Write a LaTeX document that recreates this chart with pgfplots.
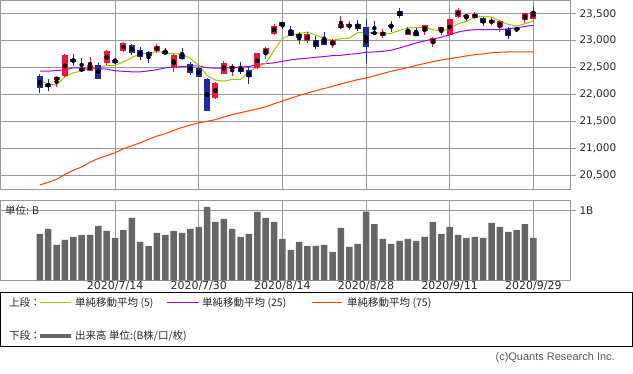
\documentclass[border=0pt]{standalone}
\usepackage{pgfplots}
\pgfplotsset{compat=1.18}
\usepackage{pgfplotstable}
\usepackage{fontspec}
\setmainfont{DejaVu Sans}
\newfontfamily\jp{Noto Sans CJK JP}
\newfontfamily\lib{Liberation Sans}
\definecolor{cup}{RGB}{240,20,60}
\definecolor{cdn}{RGB}{32,40,160}
\definecolor{gridc}{RGB}{153,153,153}
\definecolor{ma5c}{RGB}{153,204,0}
\definecolor{ma25c}{RGB}{160,0,255}
\definecolor{ma75c}{RGB}{255,64,0}
\definecolor{volc}{RGB}{102,102,102}
\definecolor{txt}{RGB}{40,40,40}

% up candles (close >= open)
\pgfplotstableread{
i o h l c
2 22265 22330 22142 22321
3 22339 22747 22315 22728
6 22438 22691 22438 22543
8 22586 22821 22556 22802
10 22809 22969 22790 22951
14 22802 22932 22772 22895
16 22500 22747 22420 22728
21 21938 22222 21920 22210
22 22383 22617 22383 22580
23 22475 22562 22339 22518
26 22494 22765 22475 22765
27 22753 22877 22654 22858
28 23123 23315 23105 23265
32 22994 23160 22957 23123
35 22920 23025 22864 23006
36 23235 23451 23210 23302
37 23253 23358 23197 23302
41 23093 23210 23049 23154
44 23111 23259 23111 23204
46 23179 23296 23105 23284
47 22957 23062 22883 23037
48 23179 23259 23105 23247
49 23105 23426 23086 23407
50 23438 23599 23426 23574
51 23438 23500 23364 23475
52 23426 23525 23401 23488
54 23327 23414 23296 23377
55 23253 23383 23167 23358
58 23389 23519 23327 23519
59 23407 23636 23407 23537
}\up

% down candles (close < open)
\pgfplotstableread{
i o h l c
0 22339 22376 22031 22123
1 22197 22284 22068 22142
4 22654 22747 22525 22599
5 22481 22673 22426 22438
7 22543 22580 22290 22290
9 22636 22685 22574 22586
11 22914 22938 22741 22772
12 22821 22877 22636 22698
13 22778 22802 22586 22716
15 22802 22858 22735 22753
17 22741 22864 22636 22654
18 22556 22599 22364 22401
19 22494 22512 22327 22327
20 22284 22296 21697 21697
24 22488 22599 22377 22420
25 22444 22512 22198 22327
29 23340 23352 23216 23284
30 23191 23265 23086 23086
31 23130 23154 22938 23049
33 23006 23086 22846 22883
34 23031 23154 22920 22920
38 23315 23389 23173 23216
39 23247 23395 22586 22883
40 23160 23358 23105 23123
42 23284 23364 23160 23272
43 23543 23599 23426 23457
45 23154 23241 23086 23086
53 23426 23438 23272 23327
56 23216 23247 23031 23093
57 23228 23259 23154 23204
}\dn

% volume (B) and moving averages
\pgfplotstableread{
i v ma5 ma25 ma75
0 0.668 22247 22432 20315
1 0.740 22204 22432 20365
2 0.510 22173 22445 20420
3 0.582 22327 22455 20512
4 0.625 22401 22494 20590
5 0.654 22438 22494 20650
6 0.654 22481 22488 20740
7 0.784 22512 22481 20810
8 0.712 22537 22470 20860
9 0.611 22543 22440 20915
10 0.726 22605 22430 20990
11 0.899 22685 22420 21045
12 0.553 22759 22420 21100
13 0.495 22759 22438 21165
14 0.683 22802 22460 21225
15 0.654 22772 22494 21270
16 0.712 22759 22510 21330
17 0.683 22747 22518 21385
18 0.740 22667 22531 21430
19 0.769 22543 22531 21470
20 1.058 22350 22495 21500
21 0.841 22265 22488 21530
22 0.885 22247 22490 21580
23 0.740 22278 22495 21625
24 0.625 22278 22512 21660
25 0.668 22420 22518 21695
26 0.986 22512 22556 21730
27 0.899 22574 22574 21770
28 0.841 22821 22586 21825
29 0.596 23037 22617 21875
30 0.438 23111 22642 21930
31 0.553 23130 22660 21980
32 0.495 23160 22673 22025
33 0.495 23099 22691 22070
34 0.510 23049 22704 22110
35 0.409 23006 22722 22150
36 0.755 23037 22728 22195
37 0.481 23049 22747 22235
38 0.524 23148 22759 22275
39 0.990 23148 22784 22305
40 0.812 23148 22790 22345
41 0.596 23136 22802 22390
42 0.524 23136 22821 22430
43 0.567 23191 22864 22465
44 0.596 23235 22910 22500
45 0.567 23241 22957 22540
46 0.625 23253 22994 22575
47 0.841 23204 23031 22610
48 0.668 23179 23062 22640
49 0.769 23222 23111 22665
50 0.654 23315 23160 22690
51 0.611 23358 23191 22715
52 0.625 23438 23204 22740
53 0.611 23451 23204 22755
54 0.827 23438 23204 22775
55 0.769 23364 23204 22785
56 0.697 23302 23222 22790
57 0.726 23272 23241 22790
58 0.812 23315 23265 22790
59 0.611 23364 23284 22790
}\ma

\pgfplotsset{
  chartbase/.style={
    scale only axis,
    xmin=-4.7, xmax=63.5,
    axis line style={gridc, line width=1pt},
    grid=major,
    grid style={gridc, line width=1pt},
    xtick={9,19,29,39,49,59},
    xtick style={draw=none},
    ytick pos=right, yticklabel pos=right,
    tick align=outside,
    major tick length=5pt,
    ytick style={gridc, line width=1pt},
    tick label style={font=\fontsize{10.5}{12}\selectfont, text=txt},
    /pgf/number format/assume math mode=true,
    scaled y ticks=false,
  }
}

\begin{document}
\begin{tikzpicture}[x=1pt,y=1pt]
\fill[white] (0pt,0pt) rectangle (633pt,374pt);

% ---------- price panel ----------
\begin{axis}[chartbase,
  at={(0.5pt,184pt)}, anchor=south west,
  width=570.5pt, height=189.5pt,
  ymin=20222, ymax=23747,
  ytick={20500,21000,21500,22000,22500,23000,23500},
  yticklabel style={/pgf/number format/.cd, fixed, 1000 sep={,}},
  xticklabels={},
]
% MA lines
\addplot[ma75c, line width=1pt] table[x=i, y=ma75]{\ma};
\addplot[ma25c, line width=1pt] table[x=i, y=ma25]{\ma};
\addplot[ma5c, line width=1pt] table[x=i, y=ma5]{\ma};
% wicks
\addplot[only marks, mark=none,
  error bars/.cd, y dir=both, y explicit, error mark=none,
  error bar style={draw=cup, line width=1pt}]
  table[x=i, y expr=(\thisrow{h}+\thisrow{l})/2, y error expr=(\thisrow{h}-\thisrow{l})/2]{\up};
\addplot[only marks, mark=none,
  error bars/.cd, y dir=both, y explicit, error mark=none,
  error bar style={draw=cdn, line width=1pt}]
  table[x=i, y expr=(\thisrow{h}+\thisrow{l})/2, y error expr=(\thisrow{h}-\thisrow{l})/2]{\dn};
% bodies
\addplot[only marks, mark=none,
  error bars/.cd, y dir=both, y explicit, error mark=none,
  error bar style={draw=cup, line width=6pt}]
  table[x=i, y expr=(\thisrow{o}+\thisrow{c})/2, y error expr=abs(\thisrow{c}-\thisrow{o})/2+3]{\up};
\addplot[only marks, mark=none,
  error bars/.cd, y dir=both, y explicit, error mark=none,
  error bar style={draw=cdn, line width=6pt}]
  table[x=i, y expr=(\thisrow{o}+\thisrow{c})/2, y error expr=abs(\thisrow{c}-\thisrow{o})/2+3]{\dn};
\end{axis}

% ---------- volume panel ----------
\begin{axis}[chartbase,
  at={(0.5pt,93.7pt)}, anchor=south west,
  width=570.5pt, height=79.3pt,
  ymin=0, ymax=1.144,
  ytick={1}, yticklabels={1B},
  xticklabels={2020/7/14,2020/7/30,2020/8/14,2020/8/28,2020/9/11,2020/9/29},
  xticklabel style={yshift=7pt, font=\fontsize{11}{12}\selectfont},
]
\addplot[ybar, bar width=6.5pt, fill=volc, draw=none] table[x=i, y=v]{\ma};
\end{axis}

\node[anchor=west, inner sep=0pt, text=txt, font=\jp\fontsize{10.5}{12}\selectfont] at (5pt,163.5pt) {単位: B};

% ---------- legend ----------
\draw[black, line width=1pt] (0.5pt,27pt) rectangle (632.5pt,81pt);
\begin{scope}[every node/.style={anchor=west, inner sep=0pt, text=txt, font=\jp\fontsize{10.5}{12}\selectfont}]
\node at (9pt,71pt) {上段：};
\draw[ma5c, line width=1pt] (40pt,71pt) -- (71pt,71pt);
\node at (75pt,71pt) {単純移動平均 (5)};
\draw[ma25c, line width=1pt] (167pt,71pt) -- (199pt,71pt);
\node at (202pt,71pt) {単純移動平均 (25)};
\draw[ma75c, line width=1pt] (312pt,71pt) -- (342pt,71pt);
\node at (347pt,71pt) {単純移動平均 (75)};
\node at (9pt,38pt) {下段：};
\draw[volc, line width=3.5pt] (40pt,38pt) -- (71pt,38pt);
\node at (75pt,38pt) {出来高 単位:(B株/口/枚)};
\end{scope}
\node[anchor=east, inner sep=0pt, text={rgb,255:red,90;green,90;blue,90}, font=\lib\fontsize{11}{13}\selectfont] at (615pt,16pt) {(c)Quants Research Inc.};

\pgfresetboundingbox
\path[use as bounding box] (0pt,0pt) rectangle (633pt,374pt);
\end{tikzpicture}
\end{document}
